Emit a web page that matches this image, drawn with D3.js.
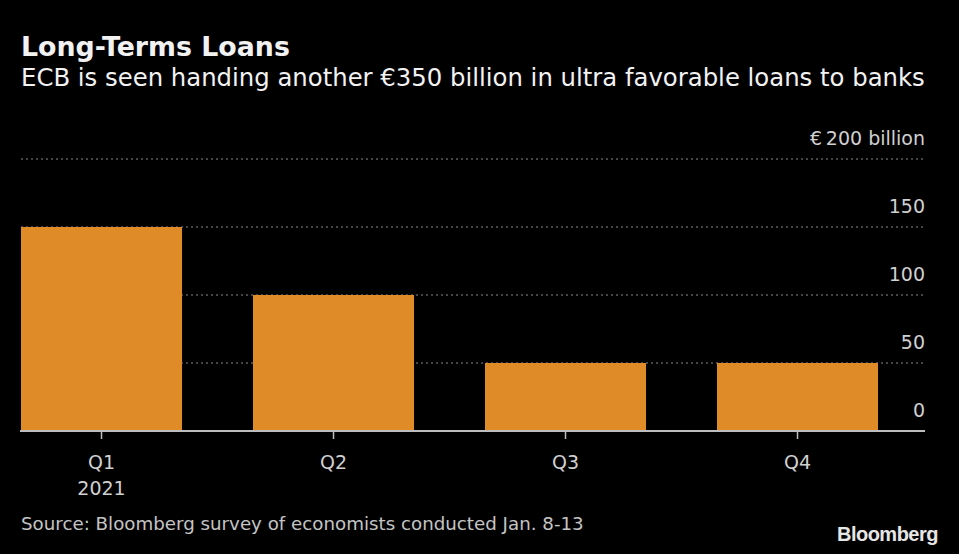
<!DOCTYPE html>
<html>
<head>
<meta charset="utf-8">
<script src="https://cdn.jsdelivr.net/npm/d3@7"></script>
<style>
  body { margin: 0; background: #000; }
  svg { display: block; background: #000; font-family: "DejaVu Sans", sans-serif; }
</style>
</head>
<body>
<svg id="chart" width="959" height="554"></svg>
<script>
var quarters = ['Q1', 'Q2', 'Q3', 'Q4'];
var loans = [150, 100, 50, 50];
var yTicks = [0, 50, 100, 150, 200];

var svg = d3.select('#chart');
var plotLeft = 21, plotRight = 925, plotTop = 159, plotBottom = 431;

// bars span 21..878, tick labels continue to 925
var x = d3.scaleBand()
  .domain(quarters)
  .range([plotLeft, 878])
  .paddingInner(0.306)
  .paddingOuter(0);

var y = d3.scaleLinear().domain([0, 200]).range([plotBottom, plotTop]);

// shrink/grow a text's font so it spans a given width
function fitWidth(sel, w) {
  var node = sel.node();
  var fs = parseFloat(sel.style('font-size'));
  var len = node.getComputedTextLength();
  sel.style('font-size', (fs * w / len).toFixed(2) + 'px');
  return sel;
}

// gridlines
svg.append('g').selectAll('line')
  .data(yTicks.filter(function (d) { return d > 0; }))
  .join('line')
  .attr('x1', plotLeft).attr('x2', plotRight)
  .attr('y1', function (d) { return y(d); })
  .attr('y2', function (d) { return y(d); })
  .attr('stroke', '#8a8a8a')
  .attr('stroke-width', 1)
  .attr('stroke-dasharray', '2,3');

// tick labels
svg.append('g').selectAll('text')
  .data(yTicks)
  .join('text')
  .attr('x', plotRight)
  .attr('y', function (d) { return y(d) - 14; })
  .attr('text-anchor', 'end')
  .attr('fill', '#d0d0d0')
  .style('font-size', '19px')
  .text(function (d) { return d === 200 ? '€\u2009200 billion' : d; });

// bars
svg.append('g').selectAll('rect')
  .data(loans)
  .join('rect')
  .attr('x', function (d, i) { return x(quarters[i]); })
  .attr('width', x.bandwidth())
  .attr('y', function (d) { return y(d); })
  .attr('height', function (d) { return y(0) - y(d); })
  .attr('fill', '#de8b28');

// baseline
svg.append('line')
  .attr('x1', plotLeft - 1).attr('x2', plotRight)
  .attr('y1', plotBottom).attr('y2', plotBottom)
  .attr('stroke', '#bdbdbd').attr('stroke-width', 2);

// x ticks and labels
var xg = svg.append('g').selectAll('g')
  .data(quarters)
  .join('g')
  .attr('transform', function (d) { return 'translate(' + (x(d) + x.bandwidth() / 2) + ',0)'; });
xg.append('line')
  .attr('y1', plotBottom).attr('y2', plotBottom + 8)
  .attr('stroke', '#bdbdbd').attr('stroke-width', 1.5);
xg.append('text')
  .attr('y', 469)
  .attr('text-anchor', 'middle')
  .attr('fill', '#d0d0d0')
  .style('font-size', '19px')
  .text(function (d) { return d; });
svg.append('text')
  .attr('x', x('Q1') + x.bandwidth() / 2)
  .attr('y', 495)
  .attr('text-anchor', 'middle')
  .attr('fill', '#d0d0d0')
  .style('font-size', '19px')
  .text('2021');

// titles
fitWidth(svg.append('text')
  .attr('x', 21).attr('y', 56)
  .attr('fill', '#f2f2f2')
  .style('font-size', '24px').style('font-weight', 'bold')
  .text('Long-Terms Loans'), 269);
fitWidth(svg.append('text')
  .attr('x', 21).attr('y', 86)
  .attr('fill', '#f2f2f2')
  .style('font-size', '22px')
  .text('ECB is seen handing another €350 billion in ultra favorable loans to banks'), 904);

fitWidth(svg.append('text')
  .attr('x', 21).attr('y', 530)
  .attr('fill', '#c4c4c4')
  .style('font-size', '17px')
  .text('Source: Bloomberg survey of economists conducted Jan. 8-13'), 563);

svg.append('text')
  .attr('x', 938).attr('y', 541)
  .attr('text-anchor', 'end')
  .attr('fill', '#e6e6e6')
  .style('font-family', '"Liberation Sans", Arial, sans-serif')
  .style('font-size', '20px').style('font-weight', 'bold')
  .style('letter-spacing', '-0.5px')
  .text('Bloomberg');
</script>
</body>
</html>
